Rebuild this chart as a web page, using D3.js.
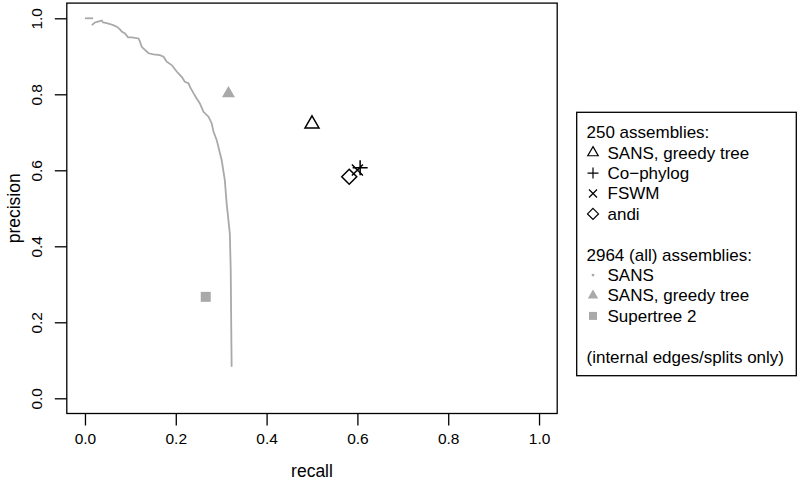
<!DOCTYPE html>
<html>
<head>
<meta charset="utf-8">
<script src="https://cdn.jsdelivr.net/npm/d3@7"></script>
<style>
  body { margin: 0; background: #fff; }
  svg text { font-family: "Liberation Sans", Arial, sans-serif; fill: #000; }
</style>
</head>
<body>
<svg id="chart" width="797" height="483"></svg>
<script>
// SANS precision/recall curve (2964 assemblies)
var curveRecall = [0.015, 0.022, 0.037, 0.040, 0.048, 0.055, 0.062, 0.070, 0.077, 0.081, 0.088,
	0.095, 0.103, 0.118, 0.121, 0.125, 0.132, 0.140, 0.151, 0.165, 0.173, 0.180, 0.191, 0.202,
	0.213, 0.220, 0.228, 0.231, 0.239, 0.246, 0.253, 0.261, 0.272, 0.279, 0.283, 0.290,
	0.301, 0.308, 0.312, 0.319, 0.321, 0.322, 0.323];
var curvePrecision = [0.982, 0.989, 0.994, 0.989, 0.987, 0.985, 0.982, 0.978, 0.971, 0.965, 0.960,
	0.950, 0.950, 0.947, 0.939, 0.925, 0.917, 0.908, 0.905, 0.903, 0.899, 0.886, 0.877, 0.860,
	0.846, 0.833, 0.829, 0.820, 0.803, 0.789, 0.776, 0.754, 0.741, 0.724, 0.702, 0.680,
	0.627, 0.574, 0.513, 0.434, 0.338, 0.206, 0.083];
// separate short piece at precision 1
var topRecall = [0.0, 0.018];
var topPrecision = [1.0, 1.0];

// 250 assemblies
var tools250 = ["SANS, greedy tree", "Co\u2212phylog", "FSWM", "andi"];
var recall250 = [0.500, 0.606, 0.600, 0.582];
var precision250 = [0.722, 0.607, 0.601, 0.583];

// 2964 (all) assemblies
var toolsAll = ["SANS", "SANS, greedy tree", "Supertree 2"];
var recallAll = [0.316, 0.266];      // greedy tree, Supertree 2
var precisionAll = [0.802, 0.267];

var xTicks = [0, 0.2, 0.4, 0.6, 0.8, 1.0];
var yTicks = [0, 0.2, 0.4, 0.6, 0.8, 1.0];

var grey = "#a9a9a9";
var svg = d3.select("#chart");

var x = d3.scaleLinear().domain([-0.04, 1.04]).range([66.8, 557.2]);
var y = d3.scaleLinear().domain([-0.04, 1.04]).range([413.5, 3.1]);

// axes
var xAxis = d3.axisBottom(x).tickValues(xTicks).tickFormat(d3.format(".1f")).tickSize(12).tickPadding(7);
var gx = svg.append("g").attr("transform", "translate(0," + y.range()[0] + ")").call(xAxis);
gx.select(".domain").remove();
gx.selectAll("line").attr("stroke", "#000").attr("stroke-width", 1.3);
gx.selectAll("text").style("font-size", "15.5px").attr("dy", "0.71em");

var yAxis = d3.axisLeft(y).tickValues(yTicks).tickFormat(d3.format(".1f")).tickSize(12).tickPadding(7);
var gy = svg.append("g").attr("transform", "translate(" + x.range()[0] + ",0)").call(yAxis);
gy.select(".domain").remove();
gy.selectAll("line").attr("stroke", "#000").attr("stroke-width", 1.3);
gy.selectAll("text").style("font-size", "15.5px")
	.attr("x", null).attr("dy", null)
	.attr("text-anchor", "middle")
	.attr("transform", "translate(-30,0) rotate(-90)")
	.attr("dy", "0.35em");

// plot box
svg.append("rect")
	.attr("x", x.range()[0]).attr("y", y.range()[1])
	.attr("width", x.range()[1] - x.range()[0]).attr("height", y.range()[0] - y.range()[1])
	.attr("fill", "none").attr("stroke", "#000").attr("stroke-width", 1.3);

svg.append("text").attr("x", (x.range()[0] + x.range()[1]) / 2).attr("y", 477)
	.attr("text-anchor", "middle").style("font-size", "17.5px").text("recall");
svg.append("text").attr("transform", "translate(20," + (y.range()[0] + y.range()[1]) / 2 + ") rotate(-90)")
	.attr("text-anchor", "middle").style("font-size", "17.5px").text("precision");

// curve
var line = d3.line().x(function (d) { return x(d[0]); }).y(function (d) { return y(d[1]); });
svg.append("path").datum(d3.zip(curveRecall, curvePrecision))
	.attr("d", line).attr("fill", "none").attr("stroke", grey).attr("stroke-width", 1.8);
svg.append("path").datum(d3.zip(topRecall, topPrecision))
	.attr("d", line).attr("fill", "none").attr("stroke", grey).attr("stroke-width", 1.8);

// symbols
function triangle(size) {
	var h = size * 0.866;
	return "M0," + (-h * 2 / 3) + "L" + (size / 2) + "," + (h / 3) + "L" + (-size / 2) + "," + (h / 3) + "Z";
}
function plus(s) { return "M" + (-s) + ",0H" + s + "M0," + (-s) + "V" + s; }
function cross(s) { return "M" + (-s) + "," + (-s) + "L" + s + "," + s + "M" + (-s) + "," + s + "L" + s + "," + (-s); }
function diamond(s) { return "M0," + (-s) + "L" + s + ",0L0," + s + "L" + (-s) + ",0Z"; }
function square(s) { return "M" + (-s) + "," + (-s) + "H" + s + "V" + s + "H" + (-s) + "Z"; }

var open = [triangle(14), plus(7.5), cross(5.5), diamond(7.5)];
svg.selectAll(".p250").data(tools250).enter().append("path")
	.attr("transform", function (d, i) { return "translate(" + x(recall250[i]) + "," + y(precision250[i]) + ")"; })
	.attr("d", function (d, i) { return open[i]; })
	.attr("fill", "none").attr("stroke", "#000").attr("stroke-width", 1.5);

var filled = [triangle(13), square(5)];
svg.selectAll(".pall").data(recallAll).enter().append("path")
	.attr("transform", function (d, i) { return "translate(" + x(recallAll[i]) + "," + y(precisionAll[i]) + ")"; })
	.attr("d", function (d, i) { return filled[i]; })
	.attr("fill", grey);

// legend
var lg = svg.append("g");
lg.append("rect").attr("x", 576.7).attr("y", 112.3).attr("width", 219.6).attr("height", 263.4)
	.attr("fill", "#fff").attr("stroke", "#000").attr("stroke-width", 1.3);
var rowH = 20.4, row0 = 132.3, tx = 586.5, sx = 593, ix = 607.5;
function rowY(i) { return row0 + i * rowH; }
lg.append("text").attr("x", tx).attr("y", rowY(0)).attr("dy", "0.35em").style("font-size", "17px").text("250 assemblies:");
var legOpen = [triangle(10.5), plus(5.5), cross(4), diamond(5.5)];
tools250.forEach(function (t, i) {
	lg.append("path").attr("transform", "translate(" + sx + "," + rowY(i + 1) + ")").attr("d", legOpen[i])
		.attr("fill", "none").attr("stroke", "#000").attr("stroke-width", 1.2);
	lg.append("text").attr("x", ix).attr("y", rowY(i + 1)).attr("dy", "0.35em").style("font-size", "17px").text(t);
});
lg.append("text").attr("x", tx).attr("y", rowY(6)).attr("dy", "0.35em").style("font-size", "17px").text("2964 (all) assemblies:");
var legFilled = [null, triangle(10.5), square(4)];
toolsAll.forEach(function (t, i) {
	if (i === 0) {
		lg.append("circle").attr("cx", sx).attr("cy", rowY(7)).attr("r", 1.4).attr("fill", grey);
	} else {
		lg.append("path").attr("transform", "translate(" + sx + "," + rowY(i + 7) + ")").attr("d", legFilled[i]).attr("fill", grey);
	}
	lg.append("text").attr("x", ix).attr("y", rowY(i + 7)).attr("dy", "0.35em").style("font-size", "17px").text(t);
});
lg.append("text").attr("x", tx).attr("y", rowY(11)).attr("dy", "0.35em").style("font-size", "17px").text("(internal edges/splits only)");
</script>
</body>
</html>
